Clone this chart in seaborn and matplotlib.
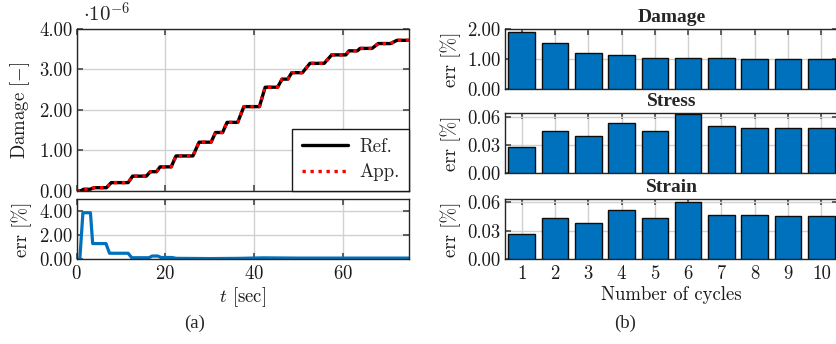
import matplotlib
matplotlib.use("Agg")
import matplotlib.pyplot as plt
import seaborn as sns
import pandas as pd
from matplotlib.ticker import FuncFormatter, FixedLocator

# ---- damage history (time in s, damage in units of 1e-6) ----
time_s = [0.0, 1.0, 1.5, 3.0, 3.9, 6.7, 7.8, 11.6, 12.6, 15.7, 16.6, 18.0,
          18.8, 21.3, 22.4, 26.2, 27.6, 30.3, 31.3, 32.9, 33.9, 36.3, 37.7,
          41.2, 42.5, 45.3, 46.3, 47.6, 48.5, 50.9, 52.6, 55.8, 57.5, 60.7,
          61.4, 63.3, 63.9, 66.6, 68.0, 70.8, 72.2, 75.0]
damage_ref = [0.00, 0.00, 0.035, 0.035, 0.074, 0.074, 0.20, 0.20, 0.36, 0.36,
              0.47, 0.47, 0.59, 0.59, 0.86, 0.86, 1.20, 1.20, 1.44, 1.44,
              1.69, 1.69, 2.08, 2.08, 2.56, 2.56, 2.76, 2.76, 2.92, 2.92,
              3.15, 3.15, 3.36, 3.36, 3.46, 3.46, 3.52, 3.52, 3.64, 3.64,
              3.72, 3.72]
damage_app = [0.00, 0.00, 0.035, 0.035, 0.074, 0.074, 0.20, 0.20, 0.36, 0.36,
              0.47, 0.47, 0.59, 0.59, 0.86, 0.86, 1.20, 1.20, 1.44, 1.44,
              1.69, 1.69, 2.08, 2.08, 2.56, 2.56, 2.76, 2.76, 2.92, 2.92,
              3.15, 3.15, 3.36, 3.36, 3.46, 3.46, 3.52, 3.52, 3.64, 3.64,
              3.72, 3.72]

# ---- relative error of the approximation over time [%] ----
err_time = [0.0, 0.7, 1.4, 3.1, 3.6, 6.6, 7.4, 11.6, 12.4, 16.3, 17.0, 18.3,
            19.0, 21.5, 22.4, 30.0, 37.0, 42.0, 50.0, 60.0, 75.0]
err_pct = [0.0, 0.0, 3.85, 3.85, 1.30, 1.30, 0.50, 0.50, 0.13, 0.13, 0.27,
           0.27, 0.15, 0.15, 0.08, 0.06, 0.08, 0.12, 0.10, 0.10, 0.10]

# ---- error per cycle [%] ----
cycles = [1, 2, 3, 4, 5, 6, 7, 8, 9, 10]
err_damage = [1.89, 1.53, 1.20, 1.13, 1.03, 1.05, 1.03, 1.02, 1.02, 1.02]
err_stress = [0.0272, 0.0447, 0.0390, 0.0536, 0.0443, 0.0625, 0.0497,
              0.0482, 0.0479, 0.0476]
err_strain = [0.0263, 0.0438, 0.0382, 0.0522, 0.0438, 0.0600, 0.0470,
              0.0463, 0.0460, 0.0460]

BLUE = "#0072BD"
CM = ["cmr10", "DejaVu Serif"]
TIMES = ["Liberation Serif", "DejaVu Serif"]
FS = 13.5

sns.set_theme(style="ticks")
plt.rcParams.update({
    "font.family": CM,
    "mathtext.fontset": "cm",
    "axes.formatter.use_mathtext": True,
    "axes.edgecolor": "0.15",
    "axes.linewidth": 1.0,
    "xtick.direction": "in",
    "ytick.direction": "in",
    "xtick.top": True,
    "ytick.right": True,
    "xtick.major.size": 4,
    "ytick.major.size": 4,
    "xtick.major.pad": 4,
    "ytick.major.pad": 3,
    "xtick.color": "0.3",
    "ytick.color": "0.3",
    "xtick.labelcolor": "0.1",
    "ytick.labelcolor": "0.1",
    "xtick.labelsize": FS,
    "ytick.labelsize": FS,
    "axes.labelsize": FS,
    "axes.labelcolor": "0.1",
    "grid.color": "0.82",
    "grid.linewidth": 1.0,
})

W, H = 836, 344
fig = plt.figure(figsize=(W / 100, H / 100), dpi=100)


def box(left, top, right, bottom):
    return [left / W, 1 - bottom / H, (right - left) / W, (bottom - top) / H]


fmt2 = FuncFormatter(lambda v, p: f"{v:.2f}")

# ---------------- (a) damage history ----------------
ax_d = fig.add_axes(box(76.7, 29, 409.3, 190.7))
df_ref = pd.DataFrame({"t": time_s, "D": [d * 1e-6 for d in damage_ref]})
df_app = pd.DataFrame({"t": time_s, "D": [d * 1e-6 for d in damage_app]})
sns.lineplot(data=df_ref, x="t", y="D", ax=ax_d, color="black", lw=2.4,
             estimator=None, label="Ref.", solid_joinstyle="round")
sns.lineplot(data=df_app, x="t", y="D", ax=ax_d, color="#FF0000", lw=2.4,
             estimator=None, label="App.", linestyle=(0, (1.0, 1.4)))
ax_d.set_xlim(0, 75)
ax_d.set_ylim(0, 4e-6)
ax_d.xaxis.set_major_locator(FixedLocator([0, 20, 40, 60]))
ax_d.yaxis.set_major_locator(FixedLocator([0, 1e-6, 2e-6, 3e-6, 4e-6]))
ax_d.yaxis.set_major_formatter(FuncFormatter(lambda v, p: f"{v * 1e6:.2f}"))
ax_d.tick_params(axis="x", labelbottom=False)
ax_d.set_xlabel("")
ax_d.set_ylabel(r"Damage [$-$]", labelpad=5)
ax_d.grid(True)
ax_d.text(0.02, 1.02, r"$\cdot 10^{-6}$", transform=ax_d.transAxes,
          ha="left", va="bottom", fontsize=FS + 1.5)
leg = ax_d.legend(loc="lower right", fontsize=FS, frameon=True, fancybox=False,
                  edgecolor="0.1", framealpha=1, borderaxespad=0,
                  handlelength=2.5, borderpad=0.5, labelspacing=0.4,
                  handletextpad=0.6)
leg.get_frame().set_linewidth(1.0)

ax_e = fig.add_axes(box(76.7, 199.3, 409.3, 259.3))
df_err = pd.DataFrame({"t": err_time, "e": err_pct})
sns.lineplot(data=df_err, x="t", y="e", ax=ax_e, color=BLUE, lw=2.3,
             estimator=None)
ax_e.set_xlim(0, 75)
ax_e.set_ylim(0, 4.96)
ax_e.xaxis.set_major_locator(FixedLocator([0, 20, 40, 60]))
ax_e.yaxis.set_major_locator(FixedLocator([0, 2, 4]))
ax_e.yaxis.set_major_formatter(fmt2)
ax_e.set_xlabel(r"$t$ [sec]", labelpad=2)
ax_e.set_ylabel("err [%]", labelpad=5)
ax_e.grid(True)

# ---------------- (b) error per cycle ----------------
panels = [
    ("Damage", err_damage, (29, 89.3), 2.0, [0, 1, 2]),
    ("Stress", err_stress, (113.3, 172.7), 0.0636, [0, 0.03, 0.06]),
    ("Strain", err_strain, (199, 259.3), 0.0636, [0, 0.03, 0.06]),
]
for i, (title, vals, (top, bottom), ymax, yt) in enumerate(panels):
    ax = fig.add_axes(box(505, top, 838, bottom))
    df = pd.DataFrame({"cycle": cycles, "err": vals})
    sns.barplot(data=df, x="cycle", y="err", ax=ax, native_scale=True,
                width=0.8, color=BLUE, saturation=1, edgecolor="0.05",
                linewidth=1.0, zorder=3)
    ax.set_xlim(0.5, 10.5)
    ax.set_ylim(0, ymax)
    ax.xaxis.set_major_locator(FixedLocator(cycles))
    ax.yaxis.set_major_locator(FixedLocator(yt))
    ax.yaxis.set_major_formatter(fmt2)
    ax.grid(True, zorder=0)
    ax.set_axisbelow(True)
    ax.set_title(title, fontsize=FS + 0.5, fontweight="bold", family=TIMES,
                 pad=5)
    ax.set_ylabel("err [%]", labelpad=5)
    if i < 2:
        ax.tick_params(axis="x", labelbottom=False)
        ax.set_xlabel("")
    else:
        ax.xaxis.set_major_formatter(FuncFormatter(lambda v, p: f"{int(v)}"))
        ax.set_xlabel("Number of cycles", labelpad=2)

fig.text(195 / W, 1 - 323 / H, "(a)", ha="center", va="center",
         fontsize=FS, family=TIMES)
fig.text(625 / W, 1 - 323 / H, "(b)", ha="center", va="center",
         fontsize=FS, family=TIMES)

fig.savefig("out.png", dpi=100)
